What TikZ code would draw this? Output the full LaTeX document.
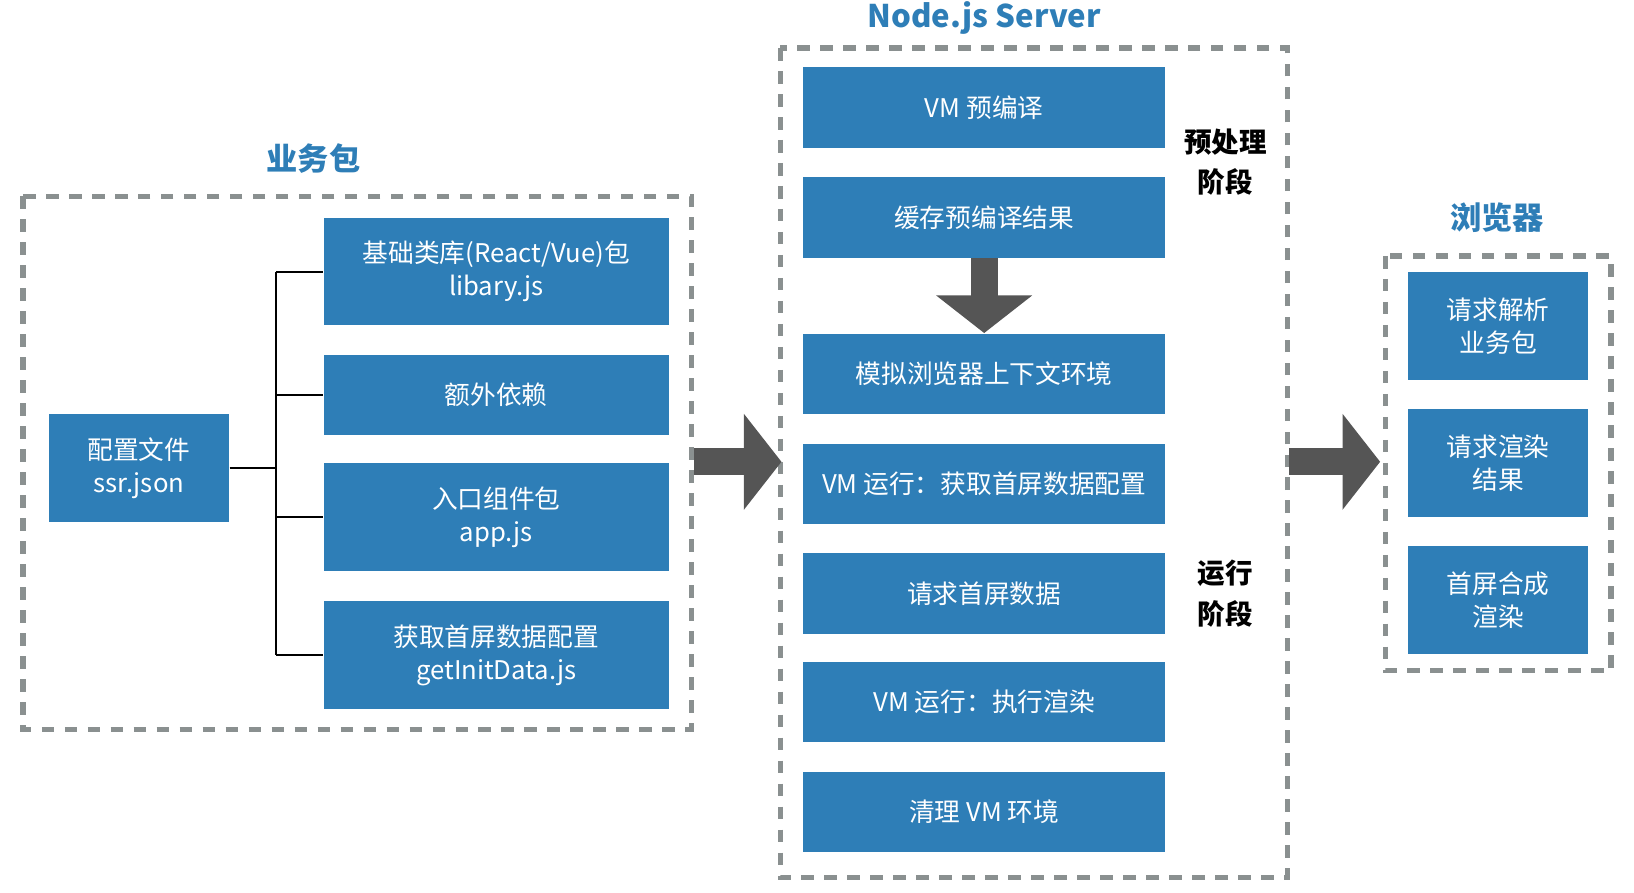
\documentclass[tikz,border=0pt]{standalone}
\usepackage{fontspec}
\setmainfont{Noto Sans CJK SC}
\usetikzlibrary{arrows.meta}
\definecolor{boxblue}{HTML}{2E7EB7}
\definecolor{dashgray}{HTML}{8A9090}
\definecolor{arrgray}{HTML}{555555}
\tikzset{
  blk/.style={fill=boxblue, text=white, font=\fontsize{7}{9}\selectfont, align=center, inner sep=0pt},
  grp/.style={draw=dashgray, line width=0.5mm, dash pattern=on 1.2mm off 1mm},
  ttl/.style={text=boxblue, font=\fontsize{8.5}{10}\selectfont\bfseries},
  big/.style={draw=arrgray, line width=2.6mm, -{Triangle[length=3.6mm, width=9mm]}},
  brk/.style={draw=black, line width=0.2mm}
}
\begin{document}
\begin{tikzpicture}[x=0.1mm, y=-0.1mm]
\useasboundingbox (0,0) rectangle (1564,854);
% groups
\draw[grp] (22,188) rectangle (662,698);
\draw[grp] (747,46) rectangle (1232,840);
\draw[grp] (1326,245) rectangle (1542,642);
\node[ttl] at (300,152) {业务包};
\node[ttl] at (942,17) {Node.js Server};
\node[ttl] at (1433,208) {浏览器};
% package
\node[blk, minimum width=17.2mm, minimum height=10.3mm] (conf) at (133,448) {配置文件\\ssr.json};
\node[blk, minimum width=33mm, minimum height=10.3mm] (lib) at (475,260) {基础类库(React/Vue)包\\libary.js};
\node[blk, minimum width=33mm, minimum height=7.6mm] (dep) at (475,378) {额外依赖};
\node[blk, minimum width=33mm, minimum height=10.3mm] (app) at (475,495) {入口组件包\\app.js};
\node[blk, minimum width=33mm, minimum height=10.3mm] (init) at (475,627) {获取首屏数据配置\\getInitData.js};
\coordinate (bm) at (264,448);
\draw[brk] (conf.east) -- (bm);
\draw[brk] (bm |- lib.west) -- (bm |- init.west);
\foreach \n in {lib,dep,app,init}
  \draw[brk] (bm |- \n.west) -- (\n.west);
% server
\foreach \n/\y/\t in {pre/103/VM 预编译, cache/208/缓存预编译结果, sim/358/模拟浏览器上下文环境,
  run/463/VM 运行：获取首屏数据配置, req/568/请求首屏数据, rend/672/VM 运行：执行渲染, clean/777/清理 VM 环境}
  \node[blk, minimum width=34.7mm, minimum height=7.7mm] (\n) at (942,\y) {\t};
\draw[big] (cache.south) -- (sim.north);
\node[font=\fontsize{7.5}{11}\selectfont\bfseries, align=center] at (1173,155) {预处理\\阶段};
\node[font=\fontsize{7.5}{11}\selectfont\bfseries, align=center] at (1173,568) {运行\\阶段};
% browser
\node[blk, minimum width=17.2mm, minimum height=10.3mm] (parse) at (1434,312) {请求解析\\业务包};
\node[blk, minimum width=17.2mm, minimum height=10.3mm] (rreq) at (1434,443) {请求渲染\\结果};
\node[blk, minimum width=17.2mm, minimum height=10.3mm] (comp) at (1434,574) {首屏合成\\渲染};
% flow
\coordinate (a1) at (664,442);
\coordinate (a2) at (748,442);
\coordinate (b1) at (1234,442);
\coordinate (b2) at (1321,442);
\draw[big] (a1) -- (a2);
\draw[big] (b1) -- (b2);
\end{tikzpicture}
\end{document}
